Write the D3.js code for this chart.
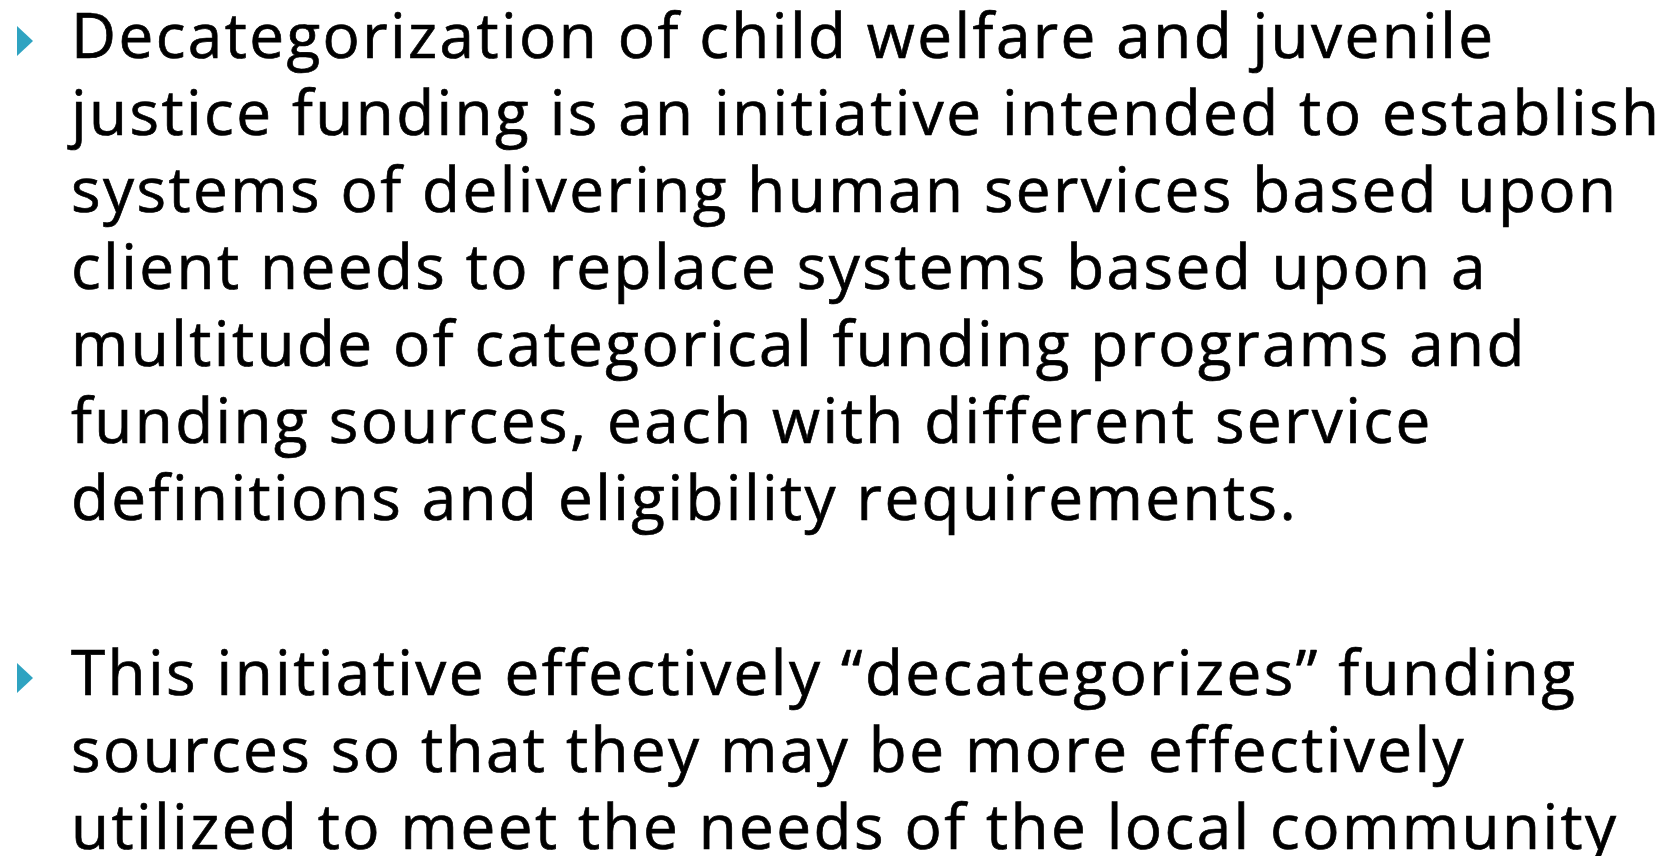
<!DOCTYPE html>
<html>
<head lang="en">
    <meta charset="UTF-8">
    <title></title>
    <style>
        body { margin: 0; background: #fff; }
    </style>
</head>
<body>
<svg width="1679" height="856"></svg>
<script src="https://cdn.jsdelivr.net/npm/d3@7/dist/d3.min.js"></script>
<script>
    // slide text, one entry per rendered line
    var para1 = [
        "Decategorization of child welfare and juvenile",
        "justice funding is an initiative intended to establish",
        "systems of delivering human services based upon",
        "client needs to replace systems based upon a",
        "multitude of categorical funding programs and",
        "funding sources, each with different service",
        "definitions and eligibility requirements."
    ];
    var para2 = [
        "This initiative effectively \u201cdecategorizes\u201d funding",
        "sources so that they may be more effectively",
        "utilized to meet the needs of the local community"
    ];
    var paragraphs = [para1, para2];

    var svg = d3.select("svg"),
            WIDTH = +svg.attr("width"),
            HEIGHT = +svg.attr("height"),
            TEXT_X = 71,
            LINE_H = 77,
            PARA_GAP = 98,
            FONT = 62;

    // flatten into rows with a running line slot (gap between paragraphs)
    var rows = [];
    var slot = 0;
    paragraphs.forEach(function (p, pi) {
        p.forEach(function (t, li) {
            rows.push({para: pi, line: li, text: t, pos: slot * LINE_H + pi * PARA_GAP});
            slot++;
        });
    });

    var yScale = d3.scaleLinear()
            .domain([0, LINE_H])
            .range([58, 58 + LINE_H]);

    var g = svg.append("g");

    var texts = g.selectAll("text.line")
            .data(rows)
            .enter().append("text")
            .attr("class", "line")
            .attr("x", TEXT_X)
            .attr("y", function (d) { return yScale(d.pos); })
            .attr("font-family", "'Open Sans', Lato, sans-serif")
            .attr("font-size", FONT)
            .attr("fill", "#000")
            .attr("stroke", "#000")
            .attr("stroke-width", 0.7)
            .text(function (d) { return d.text; });

    // tune letter spacing so the longest line reaches the right edge like the slide
    var widest = texts.filter(function (d) { return d.para === 0 && d.line === 1; });
    var natural = widest.node().getComputedTextLength();
    var target = 1588;
    var chars = rows[1].text.length;
    var ls = (target - natural) / (chars - 1);
    texts.attr("letter-spacing", ls);

    // bullets: small teal triangles in front of first line of each paragraph
    var firstRows = rows.filter(function (d) { return d.line === 0; });
    g.selectAll("path.bullet")
            .data(firstRows)
            .enter().append("path")
            .attr("class", "bullet")
            .attr("d", function (d) {
                var b = yScale(d.pos);
                return "M17," + (b - 32) + "L33," + (b - 17) + "L17," + (b - 2) + "Z";
            })
            .attr("fill", "#2fa3c1");
</script>
</body>
</html>
